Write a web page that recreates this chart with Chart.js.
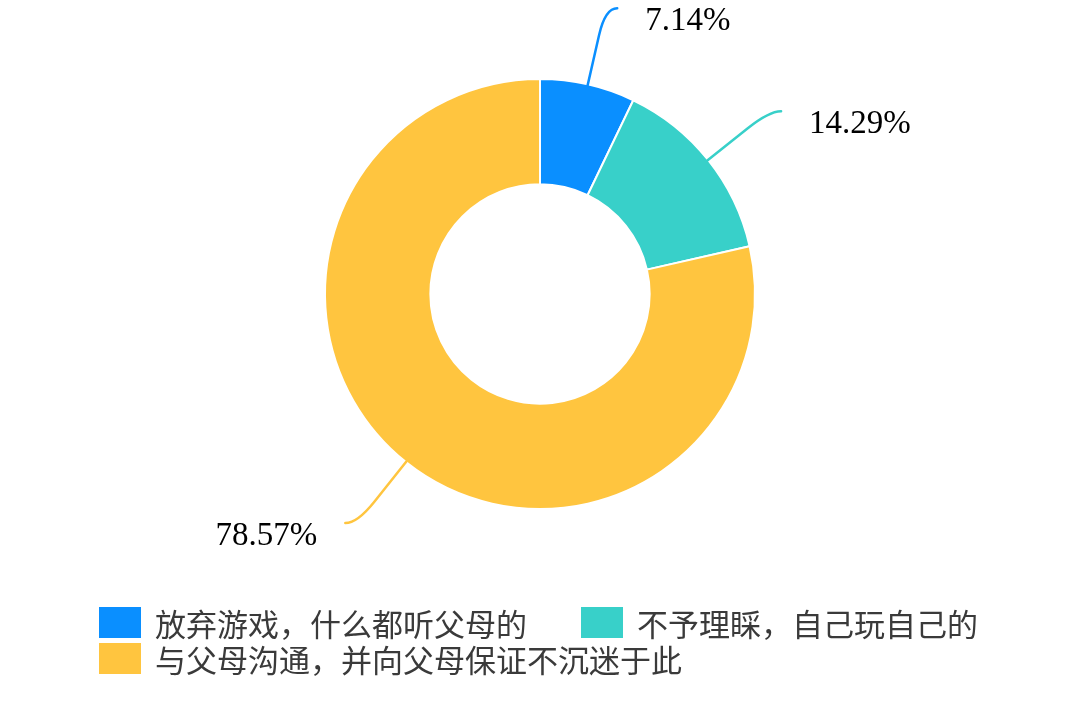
<!DOCTYPE html>
<html>
<head>
<meta charset="utf-8">
<script src="https://cdn.jsdelivr.net/npm/chart.js@4.4.0/dist/chart.umd.min.js"></script>
<style>
    html, body { margin: 0; padding: 0; background: #fff; }
    #wrap { position: relative; width: 1080px; height: 719px; }
    #chart { position: absolute; left: 0; top: 0; }
    #legend {
        position: absolute; left: 99px; top: 607px;
        display: grid; grid-template-columns: 482px auto; row-gap: 5px;
        font-family: "Noto Sans CJK SC", "Noto Sans", sans-serif;
        font-size: 31px; color: #3a3a3a;
    }
    .item { display: flex; align-items: center; height: 31px; }
    .box { width: 42px; height: 31px; margin-right: 14px; flex: none; }
    .item span { line-height: 31px; white-space: nowrap; }
    .item.full { grid-column: 1 / 3; }
</style>
</head>
<body>
<div id="wrap">
    <canvas id="chart" width="1080" height="719"></canvas>
    <div id="legend"></div>
</div>
<script>
// Chart data
const categories = ['放弃游戏，什么都听父母的', '不予理睬，自己玩自己的', '与父母沟通，并向父母保证不沉迷于此'];
const counts = [1, 2, 11];
const colors = ['#0A8FFF', '#38D0C9', '#FFC53F'];

// Leader lines with percentage labels
const leaderLabels = {
    id: 'leaderLabels',
    afterDatasetsDraw(chart) {
        const ctx = chart.ctx;
        const meta = chart.getDatasetMeta(0);
        const total = counts.reduce((a, b) => a + b, 0);
        meta.data.forEach((arc, i) => {
            const mid = (arc.startAngle + arc.endAngle) / 2;
            const cos = Math.cos(mid), sin = Math.sin(mid);
            const r0 = arc.outerRadius - 1;
            const r1 = arc.outerRadius + 78;
            const p0 = { x: arc.x + cos * r0, y: arc.y + sin * r0 };
            const knee = { x: arc.x + cos * r1, y: arc.y + sin * r1 };
            const dir = cos >= 0 ? 1 : -1;
            const end = { x: knee.x + dir * 12, y: knee.y };
            const bend = { x: p0.x + (knee.x - p0.x) * 0.65, y: p0.y + (knee.y - p0.y) * 0.65 };

            ctx.save();
            ctx.strokeStyle = colors[i];
            ctx.lineWidth = 2.5;
            ctx.lineCap = 'round';
            ctx.beginPath();
            ctx.moveTo(p0.x, p0.y);
            ctx.lineTo(bend.x, bend.y);
            ctx.quadraticCurveTo(knee.x, knee.y, end.x, end.y);
            ctx.stroke();

            const pct = (counts[i] / total * 100).toFixed(2) + '%';
            ctx.fillStyle = '#000';
            ctx.font = '33px "Liberation Serif", "Times New Roman", serif';
            ctx.textBaseline = 'alphabetic';
            ctx.textAlign = dir > 0 ? 'left' : 'right';
            ctx.fillText(pct, end.x + dir * 28, end.y + 22);
            ctx.restore();
        });
    }
};

new Chart(document.getElementById('chart'), {
    type: 'doughnut',
    data: {
        labels: categories,
        datasets: [{
            data: counts,
            backgroundColor: colors,
            borderColor: '#fff',
            borderWidth: 2,
            hoverOffset: 0
        }]
    },
    options: {
        responsive: false,
        animation: false,
        cutout: '51%',
        layout: { padding: { top: 78, bottom: 209 } },
        plugins: {
            legend: { display: false },
            tooltip: { enabled: false }
        }
    },
    plugins: [leaderLabels]
});

// HTML legend
const legend = document.getElementById('legend');
categories.forEach((label, i) => {
    const item = document.createElement('div');
    item.className = 'item' + (i === 2 ? ' full' : '');
    item.innerHTML = `<div class="box" style="background:${colors[i]}"></div><span>${label}</span>`;
    legend.appendChild(item);
});
</script>
</body>
</html>
